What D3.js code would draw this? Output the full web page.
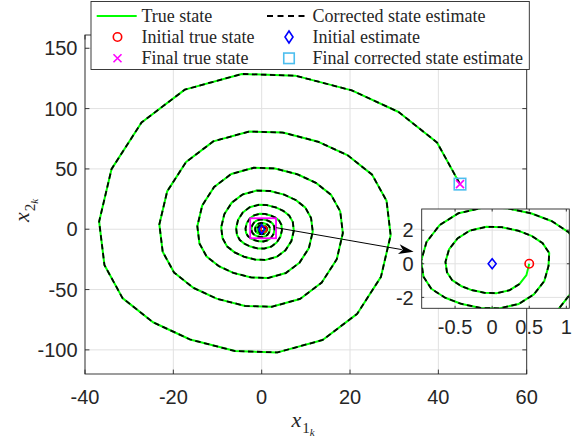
<!DOCTYPE html>
<html><head><meta charset="utf-8">
<script src="https://cdn.jsdelivr.net/npm/d3@7"></script>
<style>body{margin:0;background:#fff}svg{display:block}</style>
</head><body>
<svg id="c" width="578" height="439"></svg>
<script>
// ---- data ----
const trueX = [
 0.5,0.462,0.370,0.236,0.062,-0.103,-0.277,-0.421,-0.539,-0.609,-0.630,-0.582,-0.466,-0.298,-0.077,0.130,0.349,0.531,0.680,0.769,
 0.760,0.703,0.562,0.359,0.094,-0.156,-0.422,-0.640,-0.820,-0.926,-0.958,-0.885,-0.708,-0.453,-0.117,0.198,0.531,0.807,1.033,1.168,
 1.178,1.089,0.871,0.557,0.145,-0.242,-0.654,-0.992,-1.271,-1.436,-1.485,-1.372,-1.097,-0.702,-0.182,0.307,0.823,1.251,1.602,1.811,
 1.843,1.705,1.364,0.871,0.227,-0.379,-1.023,-1.553,-1.989,-2.247,-2.323,-2.146,-1.717,-1.098,-0.284,0.480,1.288,1.957,2.506,2.835,
 2.903,2.685,2.148,1.372,0.358,-0.597,-1.611,-2.446,-3.132,-3.540,-3.659,-3.381,-2.705,-1.730,-0.447,0.756,2.028,3.082,3.947,4.464,
 4.587,4.242,3.393,2.168,0.566,-0.943,-2.545,-3.865,-4.949,-5.593,-5.781,-5.341,-4.273,-2.734,-0.707,1.194,3.205,4.870,6.237,7.054,
 7.271,6.723,5.378,3.436,0.896,-1.494,-4.034,-6.125,-7.844,-8.864,-9.163,-8.466,-6.773,-4.333,-1.121,1.892,5.080,7.719,9.885,11.18,
 11.56,10.69,8.551,5.463,1.425,-2.375,-6.414,-9.739,-12.47,-14.09,-14.57,-13.46,-10.77,-6.889,-1.782,3.009,8.076,12.27,15.72,17.78,
 18.38,17.00,13.60,8.687,2.266,-3.777,-10.20,-15.49,-19.83,-22.41,-23.17,-21.40,-17.12,-10.95,-2.833,4.784,12.84,19.52,24.99,28.27,
 29.2,27.0,21.6,13.8,3.6,-6.0,-16.2,-24.6,-31.5,-35.6,-36.8,-34.0,-27.2,-17.4,-4.5,7.6,20.4,31.0,39.7,44.9
];
const trueY = [
 0,-0.676,-1.202,-1.572,-1.748,-1.729,-1.565,-1.320,-0.978,-0.508,0.108,0.853,1.515,1.981,2.203,2.179,1.971,1.664,1.231,0.640,
 -0.130,-1.028,-1.827,-2.389,-2.657,-2.628,-2.378,-2.006,-1.486,-0.773,0.164,1.296,2.303,3.010,3.349,3.312,2.995,2.529,1.871,0.973,
 -0.202,-1.593,-2.832,-3.703,-4.119,-4.074,-3.687,-3.110,-2.303,-1.198,0.254,2.009,3.570,4.667,5.192,5.135,4.643,3.921,2.900,1.509,
 -0.316,-2.494,-4.432,-5.795,-6.446,-6.376,-5.770,-4.867,-3.605,-1.875,0.398,3.144,5.587,7.304,8.125,8.036,7.266,6.136,4.539,2.361,
 -0.497,-3.927,-6.980,-9.128,-10.15,-10.04,-9.088,-7.666,-5.677,-2.953,0.626,4.952,8.800,11.50,12.80,12.66,11.44,9.665,7.149,3.719,
 -0.786,-6.205,-11.03,-14.42,-16.04,-15.87,-14.36,-12.11,-8.970,-4.666,0.990,7.824,13.90,18.18,20.22,20.00,18.08,15.27,11.30,5.876,
 -1.245,-9.836,-17.48,-22.86,-25.42,-25.15,-22.76,-19.20,-14.22,-7.395,1.569,12.40,22.04,28.81,32.05,31.70,28.66,24.20,17.90,9.313,
 -1.980,-15.64,-27.79,-36.34,-40.42,-39.99,-36.19,-30.52,-22.61,-11.76,2.494,19.72,35.04,45.81,50.95,50.40,45.57,38.48,28.47,14.81,
 -3.148,-24.87,-44.19,-57.79,-64.27,-63.58,-57.54,-48.53,-35.94,-18.70,3.966,31.35,55.71,72.83,81.02,80.14,72.46,61.19,45.26,23.54,
 -5.0,-39.5,-70.2,-91.8,-102.1,-101.0,-91.4,-77.1,-57.1,-29.7,6.3,49.8,88.5,115.7,128.7,127.3,115.1,97.2,71.9,37.4
];
// corrected estimate coincides with the true state from this sample on
const estFirstIndex = 2;
const initialTrue = [0.5, 0];
const initialEstimate = [0, 0];

const xTicks = [-40, -20, 0, 20, 40, 60];
const yTicks = [-100, -50, 0, 50, 100, 150];
const insetXTicks = [-0.5, 0, 0.5, 1];
const insetYTicks = [-2, 0, 2];
const zoomBox = {x0: -2.6, x1: 3.25, y0: -7.5, y1: 9.1};
const arrowFrom = [3.3, 1.3], arrowTo = [34.4, -18.6];
const legendLabels = ["True state", "Corrected state estimate", "Initial true state",
  "Initial estimate", "Final true state", "Final corrected state estimate"];

// ---- styles ----
const GREEN = "#00ff00", RED = "#ff0000", BLUE = "#0000ff", MAG = "#ff00ff", LBLUE = "#4dbeee";
const AX = "#262626", GRID = "#e1e1e1";
const TICKFONT = "Liberation Sans, Arial, Helvetica, sans-serif";
const SERIF = "Liberation Serif, Times New Roman, serif";

const svg = d3.select("#c");
const M = {l: 85, r: 526.7, t: 35, b: 374};
const x = d3.scaleLinear().domain([-40, 60]).range([M.l, M.r]);
const y = d3.scaleLinear().domain([-120, 161]).range([M.b, M.t]);
const I = {l: 421.7, r: 569.3, t: 209, b: 308.3};
const ix = d3.scaleLinear().domain([-0.95, 1.04]).range([I.l, I.r]);
const iy = d3.scaleLinear().domain([-2.65, 3.26]).range([I.b, I.t]);

const pts = trueX.map((v, i) => [v, trueY[i]]);
const estPts = pts.slice(estFirstIndex);

const defs = svg.append("defs");
defs.append("clipPath").attr("id", "cm").append("rect")
  .attr("x", M.l).attr("y", M.t).attr("width", M.r - M.l).attr("height", M.b - M.t);
defs.append("clipPath").attr("id", "ci").append("rect")
  .attr("x", I.l).attr("y", I.t).attr("width", I.r - I.l).attr("height", I.b - I.t);

// marker helpers
function circle(g, cx, cy, r) {
  g.append("circle").attr("cx", cx).attr("cy", cy).attr("r", r)
    .attr("fill", "none").attr("stroke", RED).attr("stroke-width", 1.6);
}
function diamond(g, cx, cy, w, h) {
  g.append("path").attr("d", `M${cx},${cy - h/2}L${cx + w/2},${cy}L${cx},${cy + h/2}L${cx - w/2},${cy}Z`)
    .attr("fill", "none").attr("stroke", BLUE).attr("stroke-width", 1.6);
}
function cross(g, cx, cy, s) {
  g.append("path").attr("d", `M${cx - s/2},${cy - s/2}L${cx + s/2},${cy + s/2}M${cx - s/2},${cy + s/2}L${cx + s/2},${cy - s/2}`)
    .attr("fill", "none").attr("stroke", MAG).attr("stroke-width", 1.6);
}
function square(g, cx, cy, s) {
  g.append("rect").attr("x", cx - s/2).attr("y", cy - s/2).attr("width", s).attr("height", s)
    .attr("fill", "none").attr("stroke", LBLUE).attr("stroke-width", 1.6);
}

// ---- main axes ----
const main = svg.append("g");
main.append("rect").attr("x", M.l).attr("y", M.t).attr("width", M.r - M.l).attr("height", M.b - M.t).attr("fill", "#fff");
const grid = main.append("g").attr("stroke", GRID).attr("stroke-width", 1);
xTicks.forEach(t => grid.append("line").attr("x1", x(t)).attr("x2", x(t)).attr("y1", M.t).attr("y2", M.b));
yTicks.forEach(t => grid.append("line").attr("y1", y(t)).attr("y2", y(t)).attr("x1", M.l).attr("x2", M.r));

const lineMain = d3.line().x(d => x(d[0])).y(d => y(d[1]));
const plotG = main.append("g").attr("clip-path", "url(#cm)");
plotG.append("path").attr("d", lineMain(pts)).attr("fill", "none").attr("stroke", GREEN).attr("stroke-width", 2).attr("stroke-linejoin", "round");
plotG.append("path").attr("d", lineMain(estPts)).attr("fill", "none").attr("stroke", "#000").attr("stroke-width", 1.8).attr("stroke-dasharray", "5.5,3.5");

// markers in the main plot
const last = pts[pts.length - 1];
circle(plotG, x(initialTrue[0]), y(initialTrue[1]), 3);
diamond(plotG, x(initialEstimate[0]), y(initialEstimate[1]), 6, 9);
square(main, x(last[0]), y(last[1]), 11.5);
cross(main, x(last[0]), y(last[1]), 8);
// zoom region box
main.append("rect").attr("x", x(zoomBox.x0)).attr("y", y(zoomBox.y1))
  .attr("width", x(zoomBox.x1) - x(zoomBox.x0)).attr("height", y(zoomBox.y0) - y(zoomBox.y1))
  .attr("fill", "none").attr("stroke", MAG).attr("stroke-width", 1.8);

// box + ticks
main.append("rect").attr("x", M.l).attr("y", M.t).attr("width", M.r - M.l).attr("height", M.b - M.t)
  .attr("fill", "none").attr("stroke", AX).attr("stroke-width", 0.9);
const tk = main.append("g").attr("stroke", AX).attr("stroke-width", 0.9);
const TL = 4.4;
xTicks.forEach(t => {
  tk.append("line").attr("x1", x(t)).attr("x2", x(t)).attr("y1", M.b).attr("y2", M.b - TL);
  tk.append("line").attr("x1", x(t)).attr("x2", x(t)).attr("y1", M.t).attr("y2", M.t + TL);
});
yTicks.forEach(t => {
  tk.append("line").attr("y1", y(t)).attr("y2", y(t)).attr("x1", M.l).attr("x2", M.l + TL);
  tk.append("line").attr("y1", y(t)).attr("y2", y(t)).attr("x1", M.r).attr("x2", M.r - TL);
});
const tl = main.append("g").attr("font-family", TICKFONT).attr("font-size", 20).attr("fill", AX);
xTicks.forEach(t => tl.append("text").attr("x", x(t)).attr("y", M.b + 29.5).attr("text-anchor", "middle").text(String(t)));
yTicks.forEach(t => tl.append("text").attr("x", M.l - 7.5).attr("y", y(t) + 7.2).attr("text-anchor", "end").text(String(t)));

// axis labels  x_{1_k}, x_{2_k}
function mathLabel(g, base, sub, subsub) {
  const t = g.append("text").attr("font-family", SERIF).attr("fill", AX);
  t.append("tspan").attr("font-style", "italic").attr("font-size", 22).text(base);
  t.append("tspan").attr("font-size", 15).attr("dy", 6).attr("dx", 1).text(sub);
  t.append("tspan").attr("font-style", "italic").attr("font-size", 11).attr("dy", 3).text(subsub);
  return t;
}
mathLabel(svg.append("g").attr("transform", "translate(291.5,427)"), "x", "1", "k");
mathLabel(svg.append("g").attr("transform", "translate(29,222) rotate(-90)"), "x", "2", "k");

// arrow
const ax0 = x(arrowFrom[0]), ay0 = y(arrowFrom[1]), ax1 = x(arrowTo[0]), ay1 = y(arrowTo[1]);
const ang = Math.atan2(ay1 - ay0, ax1 - ax0);
const HL = 15, HW = 5;
const bx = ax1 - HL * Math.cos(ang), by = ay1 - HL * Math.sin(ang);
svg.append("line").attr("x1", ax0).attr("y1", ay0).attr("x2", bx + 3 * Math.cos(ang)).attr("y2", by + 3 * Math.sin(ang))
  .attr("stroke", "#000").attr("stroke-width", 1);
svg.append("path").attr("d",
  `M${ax1},${ay1}L${bx + HW * Math.sin(ang)},${by - HW * Math.cos(ang)}L${bx + 4 * Math.cos(ang)},${by + 4 * Math.sin(ang)}L${bx - HW * Math.sin(ang)},${by + HW * Math.cos(ang)}Z`)
  .attr("fill", "#000");

// ---- inset axes ----
const ins = svg.append("g");
ins.append("rect").attr("x", I.l).attr("y", I.t).attr("width", I.r - I.l).attr("height", I.b - I.t).attr("fill", "#fff");
const ig = ins.append("g").attr("stroke", GRID).attr("stroke-width", 1);
insetXTicks.forEach(t => ig.append("line").attr("x1", ix(t)).attr("x2", ix(t)).attr("y1", I.t).attr("y2", I.b));
insetYTicks.forEach(t => ig.append("line").attr("y1", iy(t)).attr("y2", iy(t)).attr("x1", I.l).attr("x2", I.r));
const lineIn = d3.line().x(d => ix(d[0])).y(d => iy(d[1]));
const inG = ins.append("g").attr("clip-path", "url(#ci)");
inG.append("path").attr("d", lineIn(pts)).attr("fill", "none").attr("stroke", GREEN).attr("stroke-width", 2).attr("stroke-linejoin", "round");
inG.append("path").attr("d", lineIn(estPts)).attr("fill", "none").attr("stroke", "#000").attr("stroke-width", 1.8).attr("stroke-dasharray", "5.5,3.5");
circle(inG, ix(initialTrue[0]), iy(initialTrue[1]), 4.2);
diamond(inG, ix(initialEstimate[0]), iy(initialEstimate[1]), 8, 10);
ins.append("rect").attr("x", I.l).attr("y", I.t).attr("width", I.r - I.l).attr("height", I.b - I.t)
  .attr("fill", "none").attr("stroke", AX).attr("stroke-width", 0.9);
const itk = ins.append("g").attr("stroke", AX).attr("stroke-width", 0.9);
insetXTicks.forEach(t => {
  itk.append("line").attr("x1", ix(t)).attr("x2", ix(t)).attr("y1", I.b).attr("y2", I.b - 2.5);
  itk.append("line").attr("x1", ix(t)).attr("x2", ix(t)).attr("y1", I.t).attr("y2", I.t + 2.5);
});
insetYTicks.forEach(t => {
  itk.append("line").attr("y1", iy(t)).attr("y2", iy(t)).attr("x1", I.l).attr("x2", I.l + 2.5);
  itk.append("line").attr("y1", iy(t)).attr("y2", iy(t)).attr("x1", I.r).attr("x2", I.r - 2.5);
});
const itl = ins.append("g").attr("font-family", TICKFONT).attr("font-size", 20).attr("fill", AX);
insetXTicks.forEach(t => itl.append("text").attr("x", ix(t)).attr("y", I.b + 26).attr("text-anchor", "middle").text(String(t)));
insetYTicks.forEach(t => itl.append("text").attr("x", I.l - 8).attr("y", iy(t) + 7.2).attr("text-anchor", "end").text(String(t)));

// ---- legend ----
const lg = svg.append("g");
lg.append("rect").attr("x", 91).attr("y", 1.5).attr("width", 438.3).attr("height", 68)
  .attr("fill", "#fff").attr("stroke", AX).attr("stroke-width", 0.9);
const rows = [16, 37, 58.3];
const col = [{s: 96.7, e: 136.7, t: 141.5, m: 117.5}, {s: 267, e: 308, t: 312.5, m: 289}];
lg.append("line").attr("x1", col[0].s).attr("x2", col[0].e).attr("y1", rows[0]).attr("y2", rows[0]).attr("stroke", GREEN).attr("stroke-width", 2);
lg.append("line").attr("x1", col[1].s).attr("x2", col[1].e).attr("y1", rows[0]).attr("y2", rows[0]).attr("stroke", "#000").attr("stroke-width", 1.8).attr("stroke-dasharray", "6,4.5");
circle(lg, col[0].m, rows[1], 4.2);
diamond(lg, col[1].m, rows[1], 8, 12);
cross(lg, col[0].m, rows[2], 8);
square(lg, col[1].m, rows[2], 10.5);
legendLabels.forEach((s, i) => {
  lg.append("text").attr("x", col[i % 2].t).attr("y", rows[Math.floor(i / 2)] + 6)
    .attr("font-family", SERIF).attr("font-size", 18).attr("fill", AX).text(s);
});
</script>
</body></html>
